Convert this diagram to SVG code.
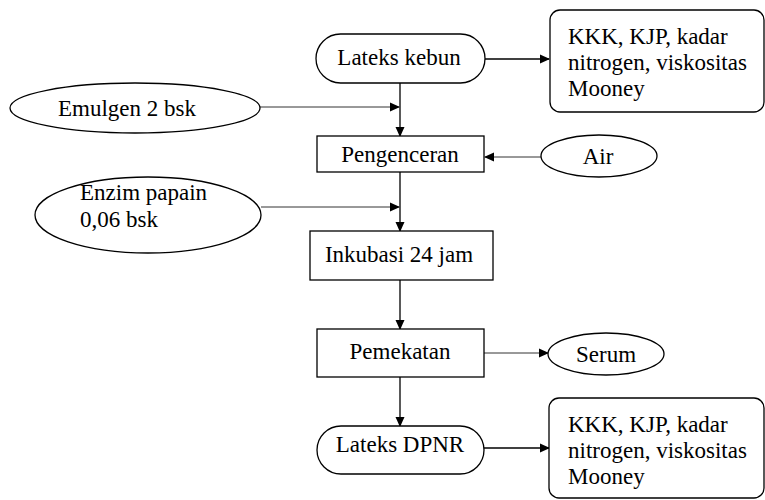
<svg xmlns="http://www.w3.org/2000/svg" width="765" height="500" viewBox="0 0 765 500">
  <style>
    .shape { fill: #ffffff; stroke: #000000; stroke-width: 1.3; }
    .line { fill: none; stroke: #000000; stroke-width: 1.3; }
    .thin { fill: none; stroke: #333333; stroke-width: 1; }
    text { font-size: 23px; fill: #000000; }
    .mid { text-anchor: middle; }
  </style>
  <defs>
    <marker id="arrow" markerWidth="10" markerHeight="10" refX="9" refY="5" orient="auto" markerUnits="userSpaceOnUse">
      <path d="M0,0.5 L10,5 L0,9.5 Z" fill="#000000"/>
    </marker>
  </defs>
  <rect width="765" height="500" fill="#ffffff"/>

  <g id="connectors">
    <line class="line" x1="485" y1="59" x2="549" y2="59" marker-end="url(#arrow)"/>
    <line class="line" x1="400" y1="83" x2="400" y2="136" marker-end="url(#arrow)"/>
    <line class="thin" x1="260" y1="107" x2="399" y2="107" marker-end="url(#arrow)"/>
    <line class="thin" x1="541" y1="157" x2="485" y2="157" marker-end="url(#arrow)"/>
    <line class="line" x1="400" y1="172" x2="400" y2="231" marker-end="url(#arrow)"/>
    <line class="thin" x1="261" y1="207" x2="399" y2="207" marker-end="url(#arrow)"/>
    <line class="line" x1="400" y1="280" x2="400" y2="329" marker-end="url(#arrow)"/>
    <line class="thin" x1="484" y1="353" x2="548" y2="353" marker-end="url(#arrow)"/>
    <line class="line" x1="400" y1="377" x2="400" y2="426" marker-end="url(#arrow)"/>
    <line class="line" x1="484" y1="448" x2="549" y2="448" marker-end="url(#arrow)"/>
  </g>

  <g font-family="'Liberation Serif', 'Times New Roman', serif">
    <g id="lateks-kebun">
      <rect class="shape" x="316" y="34" width="169" height="49" rx="24.5" ry="24.5"/>
      <text class="mid" x="399" y="65">Lateks kebun</text>
    </g>

    <g id="uji-awal">
      <rect class="shape" x="550" y="10" width="214" height="102" rx="10" ry="10"/>
      <text x="568" y="44">KKK, KJP, kadar</text>
      <text x="568" y="70">nitrogen, viskositas</text>
      <text x="568" y="96">Mooney</text>
    </g>

    <g id="emulgen">
      <ellipse class="shape" cx="135" cy="108" rx="125" ry="25"/>
      <text x="58" y="116">Emulgen 2 bsk</text>
    </g>

    <g id="pengenceran">
      <rect class="shape" x="317" y="136" width="167" height="36"/>
      <text class="mid" x="400" y="162">Pengenceran</text>
    </g>

    <g id="air">
      <ellipse class="shape" cx="599" cy="156" rx="58" ry="21"/>
      <text class="mid" x="598" y="164">Air</text>
    </g>

    <g id="enzim-papain">
      <ellipse class="shape" cx="148" cy="215" rx="113" ry="38"/>
      <text x="80" y="200">Enzim papain</text>
      <text x="80" y="227">0,06 bsk</text>
    </g>

    <g id="inkubasi">
      <rect class="shape" x="310" y="231" width="183" height="49"/>
      <text class="mid" x="399" y="262">Inkubasi 24 jam</text>
    </g>

    <g id="pemekatan">
      <rect class="shape" x="317" y="329" width="167" height="48"/>
      <text class="mid" x="400" y="359">Pemekatan</text>
    </g>

    <g id="serum">
      <ellipse class="shape" cx="606" cy="354" rx="58" ry="21"/>
      <text class="mid" x="606" y="362">Serum</text>
    </g>

    <g id="lateks-dpnr">
      <rect class="shape" x="317" y="426" width="167" height="48" rx="24" ry="24"/>
      <text class="mid" x="400" y="452">Lateks DPNR</text>
    </g>

    <g id="uji-akhir">
      <rect class="shape" x="549" y="398" width="215" height="100" rx="10" ry="10"/>
      <text x="568" y="432">KKK, KJP, kadar</text>
      <text x="568" y="458">nitrogen, viskositas</text>
      <text x="568" y="484">Mooney</text>
    </g>
  </g>
</svg>
